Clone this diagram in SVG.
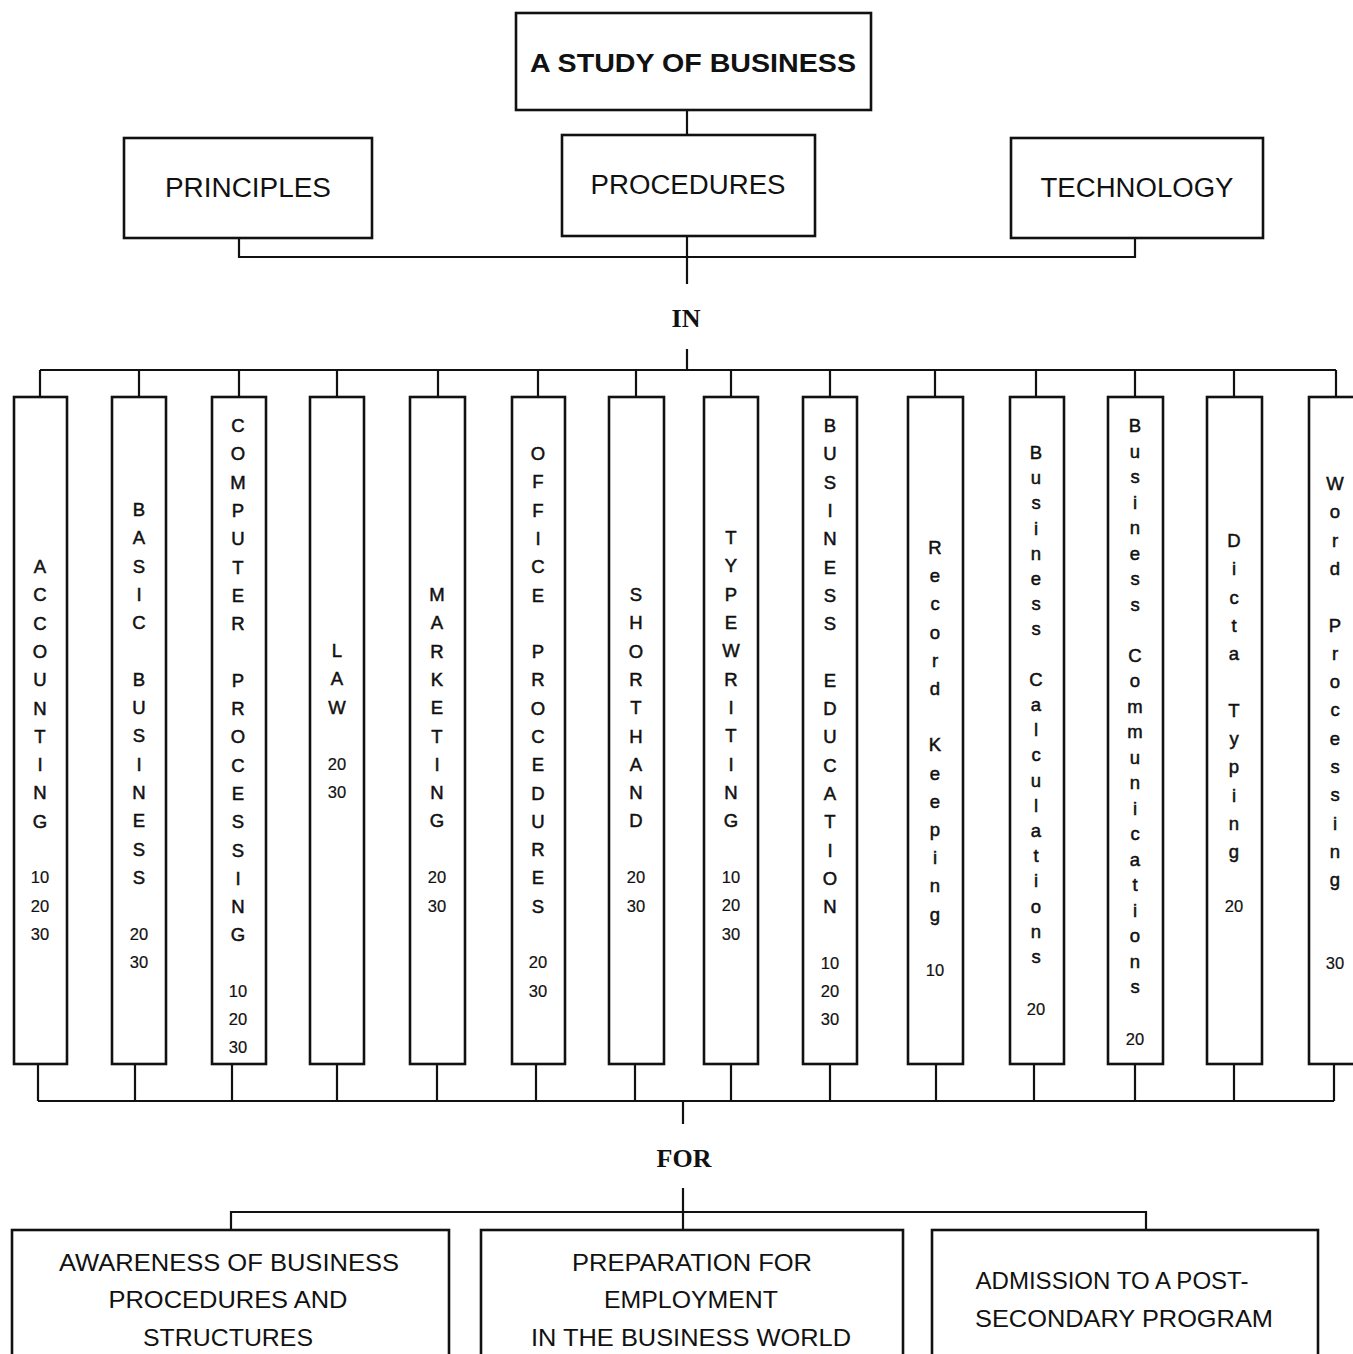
<svg xmlns="http://www.w3.org/2000/svg" width="1353" height="1354" viewBox="0 0 1353 1354">
  <style>
    .box { fill: #fff; stroke: #111; stroke-width: 2.6; }
    .wire { fill: none; stroke: #111; stroke-width: 2.2; }
    .title { font-family: "Liberation Sans", Arial, sans-serif; font-weight: bold; font-size: 26px; fill: #111; text-anchor: middle; dominant-baseline: central; }
    .head { font-family: "Liberation Sans", Arial, sans-serif; font-size: 27px; fill: #111; text-anchor: middle; dominant-baseline: central; }
    .word { font-family: "Liberation Serif", "Times New Roman", serif; font-weight: bold; font-size: 26px; fill: #111; text-anchor: middle; dominant-baseline: central; }
    .col { font-family: "Liberation Sans", Arial, sans-serif; font-size: 18.5px; fill: #111; stroke: #111; stroke-width: 0.5; text-anchor: middle; dominant-baseline: central; }
    .num { font-size: 16.5px; stroke-width: 0.2; }
    .goal { font-family: "Liberation Sans", Arial, sans-serif; font-size: 24px; fill: #111; text-anchor: middle; dominant-baseline: central; }
  </style>

  <rect width="1353" height="1354" fill="#fff"/>

  <!-- connectors -->
  <g id="connectors" class="wire">
    <!-- title to the three themes -->
    <path d="M687 110 V135"/>
    <path d="M239 238 V257 H1135 V238"/>
    <path d="M687 236 V284"/>
    <path d="M687 349 V370"/>
    <!-- top bus to the subject columns -->
    <path d="M40 370 H1336"/>
    <path d="M40 370 V397 M139 370 V397 M239 370 V397 M337 370 V397 M438 370 V397 M538 370 V397 M636 370 V397 M731 370 V397 M830 370 V397 M935 370 V397 M1036 370 V397 M1135 370 V397 M1234 370 V397 M1336 370 V397"/>
    <!-- subject columns to the bottom bus -->
    <path d="M38 1064 V1101 M135 1064 V1101 M232 1064 V1101 M337 1064 V1101 M437 1064 V1101 M536 1064 V1101 M635 1064 V1101 M731 1064 V1101 M830 1064 V1101 M936 1064 V1101 M1034 1064 V1101 M1135 1064 V1101 M1234 1064 V1101 M1334 1064 V1101"/>
    <path d="M38 1101 H1334"/>
    <path d="M683 1101 V1124"/>
    <!-- FOR to the three goals -->
    <path d="M683 1188 V1212"/>
    <path d="M231 1230 V1212 H1146 V1230"/>
    <path d="M683 1212 V1230"/>
  </g>

  <!-- top level -->
  <g id="study">
    <rect class="box" x="516" y="13" width="355" height="97"/>
    <text class="title" x="693" y="63" textLength="326" lengthAdjust="spacingAndGlyphs">A STUDY OF BUSINESS</text>
  </g>
  <g id="principles">
    <rect class="box" x="124" y="138" width="248" height="100"/>
    <text class="head" x="248" y="188" textLength="166" lengthAdjust="spacingAndGlyphs">PRINCIPLES</text>
  </g>
  <g id="procedures">
    <rect class="box" x="562" y="135" width="253" height="101"/>
    <text class="head" x="688" y="185" textLength="195" lengthAdjust="spacingAndGlyphs">PROCEDURES</text>
  </g>
  <g id="technology">
    <rect class="box" x="1011" y="138" width="252" height="100"/>
    <text class="head" x="1137" y="188" textLength="193" lengthAdjust="spacingAndGlyphs">TECHNOLOGY</text>
  </g>

  <text id="label-in" class="word" x="686" y="318">IN</text>

  <!-- subject columns -->
  <g id="accounting">
    <rect class="box" x="14" y="397" width="53" height="667"/>
    <text class="col"><tspan x="40" y="566">A</tspan><tspan x="40" y="594">C</tspan><tspan x="40" y="623">C</tspan><tspan x="40" y="651">O</tspan><tspan x="40" y="679">U</tspan><tspan x="40" y="708">N</tspan><tspan x="40" y="736">T</tspan><tspan x="40" y="764">I</tspan><tspan x="40" y="792">N</tspan><tspan x="40" y="821">G</tspan><tspan class="num" x="40" y="877">10</tspan><tspan class="num" x="40" y="906">20</tspan><tspan class="num" x="40" y="934">30</tspan></text>
  </g>
  <g id="basic-business">
    <rect class="box" x="112" y="397" width="54" height="667"/>
    <text class="col"><tspan x="139" y="509">B</tspan><tspan x="139" y="537">A</tspan><tspan x="139" y="566">S</tspan><tspan x="139" y="594">I</tspan><tspan x="139" y="622">C</tspan><tspan x="139" y="679">B</tspan><tspan x="139" y="707">U</tspan><tspan x="139" y="735">S</tspan><tspan x="139" y="764">I</tspan><tspan x="139" y="792">N</tspan><tspan x="139" y="820">E</tspan><tspan x="139" y="849">S</tspan><tspan x="139" y="877">S</tspan><tspan class="num" x="139" y="934">20</tspan><tspan class="num" x="139" y="962">30</tspan></text>
  </g>
  <g id="computer-processing">
    <rect class="box" x="212" y="397" width="54" height="667"/>
    <text class="col"><tspan x="238" y="425">C</tspan><tspan x="238" y="453">O</tspan><tspan x="238" y="482">M</tspan><tspan x="238" y="510">P</tspan><tspan x="238" y="538">U</tspan><tspan x="238" y="567">T</tspan><tspan x="238" y="595">E</tspan><tspan x="238" y="623">R</tspan><tspan x="238" y="680">P</tspan><tspan x="238" y="708">R</tspan><tspan x="238" y="736">O</tspan><tspan x="238" y="765">C</tspan><tspan x="238" y="793">E</tspan><tspan x="238" y="821">S</tspan><tspan x="238" y="850">S</tspan><tspan x="238" y="878">I</tspan><tspan x="238" y="906">N</tspan><tspan x="238" y="934">G</tspan><tspan class="num" x="238" y="991">10</tspan><tspan class="num" x="238" y="1019">20</tspan><tspan class="num" x="238" y="1047">30</tspan></text>
  </g>
  <g id="law">
    <rect class="box" x="310" y="397" width="54" height="667"/>
    <text class="col"><tspan x="337" y="650">L</tspan><tspan x="337" y="678">A</tspan><tspan x="337" y="707">W</tspan><tspan class="num" x="337" y="764">20</tspan><tspan class="num" x="337" y="792">30</tspan></text>
  </g>
  <g id="marketing">
    <rect class="box" x="410" y="397" width="55" height="667"/>
    <text class="col"><tspan x="437" y="594">M</tspan><tspan x="437" y="622">A</tspan><tspan x="437" y="651">R</tspan><tspan x="437" y="679">K</tspan><tspan x="437" y="707">E</tspan><tspan x="437" y="736">T</tspan><tspan x="437" y="764">I</tspan><tspan x="437" y="792">N</tspan><tspan x="437" y="820">G</tspan><tspan class="num" x="437" y="877">20</tspan><tspan class="num" x="437" y="906">30</tspan></text>
  </g>
  <g id="office-procedures">
    <rect class="box" x="512" y="397" width="53" height="667"/>
    <text class="col"><tspan x="538" y="453">O</tspan><tspan x="538" y="481">F</tspan><tspan x="538" y="510">F</tspan><tspan x="538" y="538">I</tspan><tspan x="538" y="566">C</tspan><tspan x="538" y="595">E</tspan><tspan x="538" y="651">P</tspan><tspan x="538" y="679">R</tspan><tspan x="538" y="708">O</tspan><tspan x="538" y="736">C</tspan><tspan x="538" y="764">E</tspan><tspan x="538" y="793">D</tspan><tspan x="538" y="821">U</tspan><tspan x="538" y="849">R</tspan><tspan x="538" y="877">E</tspan><tspan x="538" y="906">S</tspan><tspan class="num" x="538" y="962">20</tspan><tspan class="num" x="538" y="991">30</tspan></text>
  </g>
  <g id="shorthand">
    <rect class="box" x="609" y="397" width="55" height="667"/>
    <text class="col"><tspan x="636" y="594">S</tspan><tspan x="636" y="622">H</tspan><tspan x="636" y="651">O</tspan><tspan x="636" y="679">R</tspan><tspan x="636" y="707">T</tspan><tspan x="636" y="736">H</tspan><tspan x="636" y="764">A</tspan><tspan x="636" y="792">N</tspan><tspan x="636" y="820">D</tspan><tspan class="num" x="636" y="877">20</tspan><tspan class="num" x="636" y="906">30</tspan></text>
  </g>
  <g id="typewriting">
    <rect class="box" x="704" y="397" width="54" height="667"/>
    <text class="col"><tspan x="731" y="537">T</tspan><tspan x="731" y="565">Y</tspan><tspan x="731" y="594">P</tspan><tspan x="731" y="622">E</tspan><tspan x="731" y="650">W</tspan><tspan x="731" y="679">R</tspan><tspan x="731" y="707">I</tspan><tspan x="731" y="735">T</tspan><tspan x="731" y="764">I</tspan><tspan x="731" y="792">N</tspan><tspan x="731" y="820">G</tspan><tspan class="num" x="731" y="877">10</tspan><tspan class="num" x="731" y="905">20</tspan><tspan class="num" x="731" y="934">30</tspan></text>
  </g>
  <g id="business-education">
    <rect class="box" x="803" y="397" width="54" height="667"/>
    <text class="col"><tspan x="830" y="425">B</tspan><tspan x="830" y="453">U</tspan><tspan x="830" y="482">S</tspan><tspan x="830" y="510">I</tspan><tspan x="830" y="538">N</tspan><tspan x="830" y="567">E</tspan><tspan x="830" y="595">S</tspan><tspan x="830" y="623">S</tspan><tspan x="830" y="680">E</tspan><tspan x="830" y="708">D</tspan><tspan x="830" y="736">U</tspan><tspan x="830" y="765">C</tspan><tspan x="830" y="793">A</tspan><tspan x="830" y="821">T</tspan><tspan x="830" y="850">I</tspan><tspan x="830" y="878">O</tspan><tspan x="830" y="906">N</tspan><tspan class="num" x="830" y="963">10</tspan><tspan class="num" x="830" y="991">20</tspan><tspan class="num" x="830" y="1019">30</tspan></text>
  </g>
  <g id="record-keeping">
    <rect class="box" x="908" y="397" width="55" height="667"/>
    <text class="col"><tspan x="935" y="547">R</tspan><tspan x="935" y="575">e</tspan><tspan x="935" y="603">c</tspan><tspan x="935" y="632">o</tspan><tspan x="935" y="660">r</tspan><tspan x="935" y="688">d</tspan><tspan x="935" y="744">K</tspan><tspan x="935" y="773">e</tspan><tspan x="935" y="801">e</tspan><tspan x="935" y="829">p</tspan><tspan x="935" y="857">i</tspan><tspan x="935" y="885">n</tspan><tspan x="935" y="914">g</tspan><tspan class="num" x="935" y="970">10</tspan></text>
  </g>
  <g id="business-calculations">
    <rect class="box" x="1010" y="397" width="54" height="667"/>
    <text class="col"><tspan x="1036" y="452">B</tspan><tspan x="1036" y="477">u</tspan><tspan x="1036" y="502">s</tspan><tspan x="1036" y="528">i</tspan><tspan x="1036" y="553">n</tspan><tspan x="1036" y="578">e</tspan><tspan x="1036" y="603">s</tspan><tspan x="1036" y="628">s</tspan><tspan x="1036" y="679">C</tspan><tspan x="1036" y="704">a</tspan><tspan x="1036" y="729">l</tspan><tspan x="1036" y="754">c</tspan><tspan x="1036" y="780">u</tspan><tspan x="1036" y="805">l</tspan><tspan x="1036" y="830">a</tspan><tspan x="1036" y="855">t</tspan><tspan x="1036" y="880">i</tspan><tspan x="1036" y="906">o</tspan><tspan x="1036" y="931">n</tspan><tspan x="1036" y="956">s</tspan><tspan class="num" x="1036" y="1009">20</tspan></text>
  </g>
  <g id="business-communications">
    <rect class="box" x="1108" y="397" width="55" height="667"/>
    <text class="col"><tspan x="1135" y="425">B</tspan><tspan x="1135" y="451">u</tspan><tspan x="1135" y="476">s</tspan><tspan x="1135" y="502">i</tspan><tspan x="1135" y="527">n</tspan><tspan x="1135" y="553">e</tspan><tspan x="1135" y="578">s</tspan><tspan x="1135" y="604">s</tspan><tspan x="1135" y="655">C</tspan><tspan x="1135" y="680">o</tspan><tspan x="1135" y="706">m</tspan><tspan x="1135" y="731">m</tspan><tspan x="1135" y="757">u</tspan><tspan x="1135" y="782">n</tspan><tspan x="1135" y="808">i</tspan><tspan x="1135" y="833">c</tspan><tspan x="1135" y="859">a</tspan><tspan x="1135" y="884">t</tspan><tspan x="1135" y="910">i</tspan><tspan x="1135" y="935">o</tspan><tspan x="1135" y="961">n</tspan><tspan x="1135" y="986">s</tspan><tspan class="num" x="1135" y="1039">20</tspan></text>
  </g>
  <g id="dicta-typing">
    <rect class="box" x="1207" y="397" width="55" height="667"/>
    <text class="col"><tspan x="1234" y="540">D</tspan><tspan x="1234" y="568">i</tspan><tspan x="1234" y="597">c</tspan><tspan x="1234" y="625">t</tspan><tspan x="1234" y="653">a</tspan><tspan x="1234" y="710">T</tspan><tspan x="1234" y="738">y</tspan><tspan x="1234" y="766">p</tspan><tspan x="1234" y="795">i</tspan><tspan x="1234" y="823">n</tspan><tspan x="1234" y="851">g</tspan><tspan class="num" x="1234" y="906">20</tspan></text>
  </g>
  <g id="word-processing">
    <rect class="box" x="1309" y="397" width="60" height="667"/>
    <text class="col"><tspan x="1335" y="483">W</tspan><tspan x="1335" y="511">o</tspan><tspan x="1335" y="540">r</tspan><tspan x="1335" y="568">d</tspan><tspan x="1335" y="625">P</tspan><tspan x="1335" y="653">r</tspan><tspan x="1335" y="681">o</tspan><tspan x="1335" y="709">c</tspan><tspan x="1335" y="738">e</tspan><tspan x="1335" y="766">s</tspan><tspan x="1335" y="794">s</tspan><tspan x="1335" y="823">i</tspan><tspan x="1335" y="851">n</tspan><tspan x="1335" y="879">g</tspan><tspan class="num" x="1335" y="963">30</tspan></text>
  </g>

  <text id="label-for" class="word" x="684" y="1158">FOR</text>

  <!-- goals -->
  <g id="awareness">
    <rect class="box" x="12" y="1230" width="437" height="140"/>
    <text class="goal" x="229" y="1262" textLength="340" lengthAdjust="spacingAndGlyphs">AWARENESS OF BUSINESS</text>
    <text class="goal" x="228" y="1299" textLength="239" lengthAdjust="spacingAndGlyphs">PROCEDURES AND</text>
    <text class="goal" x="228" y="1337" textLength="170" lengthAdjust="spacingAndGlyphs">STRUCTURES</text>
  </g>
  <g id="preparation">
    <rect class="box" x="481" y="1230" width="422" height="140"/>
    <text class="goal" x="692" y="1262" textLength="240" lengthAdjust="spacingAndGlyphs">PREPARATION FOR</text>
    <text class="goal" x="691" y="1299" textLength="174" lengthAdjust="spacingAndGlyphs">EMPLOYMENT</text>
    <text class="goal" x="691" y="1337" textLength="320" lengthAdjust="spacingAndGlyphs">IN THE BUSINESS WORLD</text>
  </g>
  <g id="admission">
    <rect class="box" x="932" y="1230" width="386" height="140"/>
    <text class="goal" x="1112" y="1280" textLength="273" lengthAdjust="spacingAndGlyphs">ADMISSION TO A POST-</text>
    <text class="goal" x="1124" y="1318" textLength="298" lengthAdjust="spacingAndGlyphs">SECONDARY PROGRAM</text>
  </g>
</svg>
